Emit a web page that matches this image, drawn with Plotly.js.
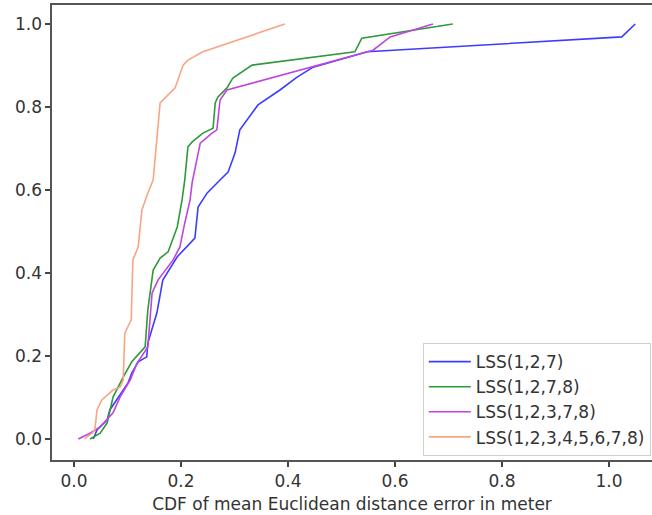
<!DOCTYPE html>
<html>
<head>
<meta charset="utf-8">
<script src="https://cdn.plot.ly/plotly-3.0.1.min.js"></script>
<style>html,body{margin:0;padding:0;background:#fff;}#chart{width:652px;height:515px;}</style>
</head>
<body>
<div id="chart"></div>
<script>
// Series names
const seriesNames = ["LSS(1,2,7)", "LSS(1,2,7,8)", "LSS(1,2,3,7,8)", "LSS(1,2,3,4,5,6,7,8)"];

// LSS(1,2,7) - blue
const blueX = [0.036, 0.043, 0.062, 0.067, 0.077, 0.101, 0.108, 0.120, 0.136, 0.138, 0.155, 0.166, 0.193, 0.226, 0.232, 0.249, 0.273, 0.288, 0.301, 0.310, 0.344, 0.385, 0.417, 0.447, 0.548, 1.024, 1.049];
const blueY = [0.000, 0.022, 0.046, 0.070, 0.089, 0.135, 0.159, 0.186, 0.198, 0.231, 0.304, 0.383, 0.439, 0.484, 0.559, 0.593, 0.624, 0.643, 0.689, 0.745, 0.805, 0.841, 0.872, 0.896, 0.933, 0.969, 1.000];

// LSS(1,2,7,8) - green
const greenX = [0.030, 0.049, 0.062, 0.067, 0.073, 0.092, 0.108, 0.133, 0.138, 0.148, 0.161, 0.176, 0.193, 0.202, 0.207, 0.213, 0.221, 0.241, 0.260, 0.264, 0.269, 0.286, 0.297, 0.333, 0.525, 0.538, 0.708];
const greenY = [0.000, 0.014, 0.039, 0.070, 0.101, 0.149, 0.186, 0.222, 0.311, 0.407, 0.436, 0.451, 0.511, 0.576, 0.624, 0.704, 0.716, 0.737, 0.749, 0.810, 0.824, 0.846, 0.870, 0.901, 0.933, 0.966, 1.000];

// LSS(1,2,3,7,8) - purple
const purpleX = [0.008, 0.030, 0.049, 0.073, 0.086, 0.105, 0.118, 0.138, 0.146, 0.157, 0.185, 0.198, 0.207, 0.217, 0.221, 0.230, 0.236, 0.258, 0.267, 0.273, 0.286, 0.559, 0.591, 0.671];
const purpleY = [0.000, 0.014, 0.029, 0.063, 0.101, 0.142, 0.183, 0.222, 0.352, 0.383, 0.431, 0.463, 0.520, 0.576, 0.619, 0.680, 0.713, 0.737, 0.745, 0.817, 0.841, 0.937, 0.969, 1.000];

// LSS(1,2,3,4,5,6,7,8) - orange
const orangeX = [0.020, 0.024, 0.034, 0.039, 0.043, 0.052, 0.073, 0.086, 0.092, 0.095, 0.107, 0.110, 0.120, 0.127, 0.138, 0.148, 0.161, 0.189, 0.204, 0.213, 0.241, 0.348, 0.394];
const orangeY = [0.000, 0.005, 0.014, 0.022, 0.070, 0.094, 0.118, 0.125, 0.142, 0.255, 0.287, 0.431, 0.463, 0.552, 0.593, 0.624, 0.810, 0.846, 0.901, 0.913, 0.933, 0.981, 1.000];

// Axis ticks
const xTicks = [0.0, 0.2, 0.4, 0.6, 0.8, 1.0];
const xTickLabels = ["0.0", "0.2", "0.4", "0.6", "0.8", "1.0"];
const yTicks = [0.0, 0.2, 0.4, 0.6, 0.8, 1.0];
const yTickLabels = ["0.0", "0.2", "0.4", "0.6", "0.8", "1.0"];

const xTitle = "CDF of mean Euclidean distance error in meter";

const colors = ["#3c3cff", "#2f9a3a", "#bf45e0", "#f8a583"];
const xs = [blueX, greenX, purpleX, orangeX];
const ys = [blueY, greenY, purpleY, orangeY];

const FONT = "DejaVu Sans, sans-serif";
const traces = seriesNames.map((name, i) => ({
  type: "scatter",
  mode: "lines",
  name: name,
  legendgroup: "g" + i,
  x: xs[i],
  y: ys[i],
  line: {color: colors[i], width: 1.6}
}));

const layout = {
  width: 652,
  height: 515,
  margin: {l: 52, r: 0, t: 5, b: 55, pad: 0},
  paper_bgcolor: "#ffffff",
  plot_bgcolor: "#ffffff",
  font: {family: FONT, size: 17, color: "#333333"},
  showlegend: true,
  legend: {
    x: 0.618, y: 0.257, xanchor: "left", yanchor: "top",
    bgcolor: "#ffffff", bordercolor: "#d0d0d0", borderwidth: 1,
    font: {family: FONT, size: 17, color: "#333333"},
    tracegroupgap: 0,
    itemwidth: 42
  },
  xaxis: {
    range: [-0.0411, 1.0804],
    tickvals: xTicks, ticktext: xTickLabels,
    ticks: "outside", ticklen: 5, tickwidth: 1.2, tickcolor: "#444",
    showgrid: false, zeroline: false,
    showline: true, linecolor: "#555", linewidth: 1.6, mirror: true,
    tickfont: {family: FONT, size: 17, color: "#333"},
    title: {text: xTitle, font: {family: FONT, size: 17, color: "#333"}, standoff: 8}
  },
  yaxis: {
    range: [-0.0506, 1.0458],
    tickvals: yTicks, ticktext: yTickLabels,
    ticks: "outside", ticklen: 5, tickwidth: 1.2, tickcolor: "#444",
    showgrid: false, zeroline: false,
    showline: true, linecolor: "#555", linewidth: 1.6, mirror: false,
    tickfont: {family: FONT, size: 17, color: "#333"}
  }
};

Plotly.newPlot("chart", traces, layout, {displayModeBar: false, staticPlot: true});
</script>
</body>
</html>
